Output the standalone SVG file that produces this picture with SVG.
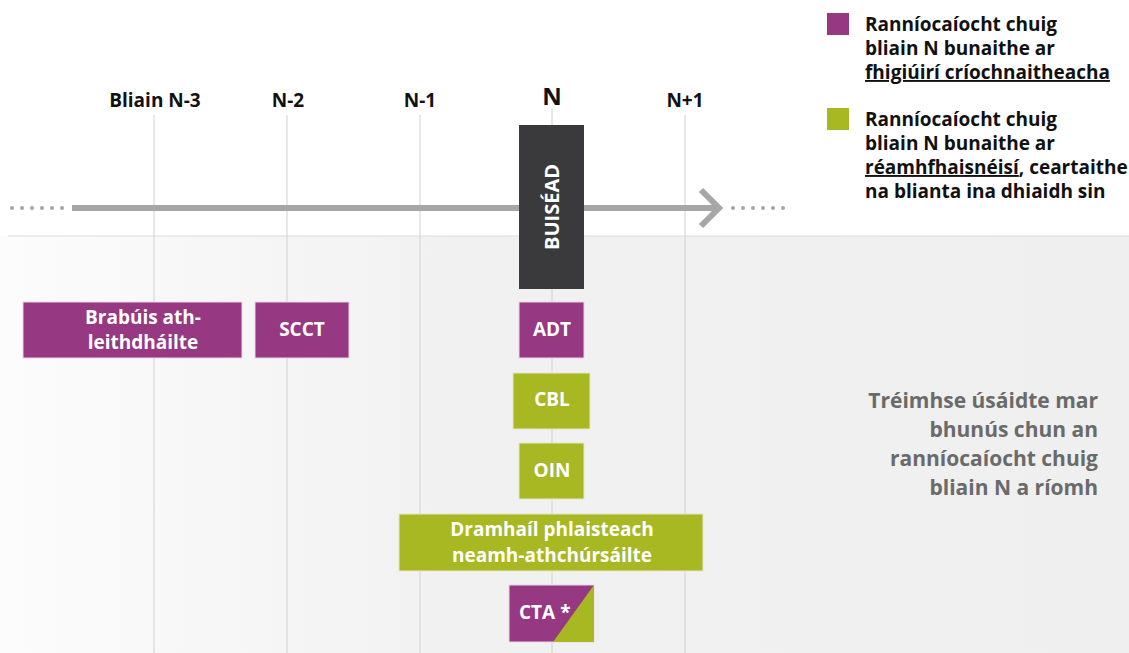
<svg xmlns="http://www.w3.org/2000/svg" width="1129" height="653" viewBox="0 0 1129 653">
<defs>
<linearGradient id="bg" x1="0" y1="0" x2="1" y2="0">
<stop offset="0" stop-color="#fcfcfc"/>
<stop offset="0.4" stop-color="#f1f1f1"/>
<stop offset="1" stop-color="#efefef"/>
</linearGradient>
<style>
text{font-family:"Open Sans","Liberation Sans",sans-serif;font-weight:700}
.ax{font-size:19px;fill:#111;text-anchor:middle}
.grid{stroke:#d0d0d0;stroke-width:1}
.pur{fill:#963882;stroke:#e8d8e4;stroke-width:1}
.grn{fill:#a8b822;stroke:#e4e8cc;stroke-width:1}
.bt{font-size:19px;fill:#fff;text-anchor:middle}
.lg{font-size:19px;fill:#111}
.note{font-size:21px;fill:#6a6a6a;text-anchor:end}
.arr{stroke:#a6a6a6;stroke-width:6;fill:none}
.dot{fill:#a6a6a6}
</style>
</defs>
<rect x="0" y="0" width="1129" height="653" fill="#ffffff"/>
<rect x="0" y="236" width="1129" height="417" fill="url(#bg)"/>
<line x1="8" y1="236" x2="1129" y2="236" stroke="#dcdcdc" stroke-width="1"/>
<g id="grid">
<line class="grid" x1="154" y1="115" x2="154" y2="653"/>
<line class="grid" x1="287" y1="115" x2="287" y2="653"/>
<line class="grid" x1="420" y1="115" x2="420" y2="653"/>
<line class="grid" x1="552" y1="108" x2="552" y2="653"/>
<line class="grid" x1="685" y1="115" x2="685" y2="653"/>
</g>
<g id="axis-labels">
<text class="ax" x="155" y="107">Bliain N-3</text>
<text class="ax" x="288" y="107">N-2</text>
<text class="ax" x="420" y="107">N-1</text>
<text class="ax" x="552" y="105" style="font-size:24px">N</text>
<text class="ax" x="685" y="107">N+1</text>
</g>
<g id="connectors">
<line class="arr" x1="72" y1="208" x2="719" y2="208"/>
<polyline class="arr" points="701,190 719,208 701,226"/>
<g class="dot">
<circle cx="12" cy="208" r="2"/><circle cx="22" cy="208" r="2"/><circle cx="32" cy="208" r="2"/><circle cx="42" cy="208" r="2"/><circle cx="52" cy="208" r="2"/><circle cx="62" cy="208" r="2"/>
<circle cx="733" cy="208" r="2"/><circle cx="743" cy="208" r="2"/><circle cx="753" cy="208" r="2"/><circle cx="763" cy="208" r="2"/><circle cx="773" cy="208" r="2"/><circle cx="783" cy="208" r="2"/>
</g>
</g>
<g id="buisead">
<rect x="519" y="125" width="65" height="164" fill="#3a3a3c"/>
<text class="bt" transform="translate(559,207) rotate(-90)" style="font-size:20px">BUISÉAD</text>
</g>
<g id="brabuis">
<rect class="pur" x="23" y="302" width="219" height="56"/>
<text class="bt" x="143" y="324">Brabúis ath-</text>
<text class="bt" x="143" y="349">leithdháilte</text>
</g>
<g id="scct">
<rect class="pur" x="255" y="302" width="94" height="56"/>
<text class="bt" x="302" y="336">SCCT</text>
</g>
<g id="adt">
<rect class="pur" x="519" y="302" width="65" height="56"/>
<text class="bt" x="552" y="336">ADT</text>
</g>
<g id="cbl">
<rect class="grn" x="513" y="373" width="77" height="56"/>
<text class="bt" x="552" y="406">CBL</text>
</g>
<g id="oin">
<rect class="grn" x="519" y="443" width="65" height="56"/>
<text class="bt" x="552" y="477">OIN</text>
</g>
<g id="dramhail">
<rect class="grn" x="399" y="514" width="304" height="57"/>
<text class="bt" x="552" y="536">Dramhaíl phlaisteach</text>
<text class="bt" x="552" y="562">neamh-athchúrsáilte</text>
</g>
<g id="cta">
<rect class="pur" x="509" y="585" width="85" height="57"/>
<polygon points="594,585 594,642 553,642" fill="#a8b822"/>
<text class="bt" x="519" y="619" style="text-anchor:start">CTA *</text>
</g>
<g id="legend">
<rect x="827" y="13" width="22" height="22" fill="#963882"/>
<text class="lg" x="865" y="31">Ranníocaíocht chuig</text>
<text class="lg" x="865" y="55">bliain N bunaithe ar</text>
<text class="lg" x="865" y="79" text-decoration="underline">fhigiúirí críochnaitheacha</text>
<rect x="827" y="108" width="22" height="22" fill="#a8b822"/>
<text class="lg" x="865" y="126">Ranníocaíocht chuig</text>
<text class="lg" x="865" y="150">bliain N bunaithe ar</text>
<text class="lg" x="865" y="174"><tspan text-decoration="underline">réamhfhaisnéisí</tspan>, ceartaithe</text>
<text class="lg" x="865" y="198">na blianta ina dhiaidh sin</text>
</g>
<g id="note">
<text class="note" x="1098" y="408">Tréimhse úsáidte mar</text>
<text class="note" x="1098" y="437">bhunús chun an</text>
<text class="note" x="1098" y="466">ranníocaíocht chuig</text>
<text class="note" x="1098" y="495">bliain N a ríomh</text>
</g>
</svg>
